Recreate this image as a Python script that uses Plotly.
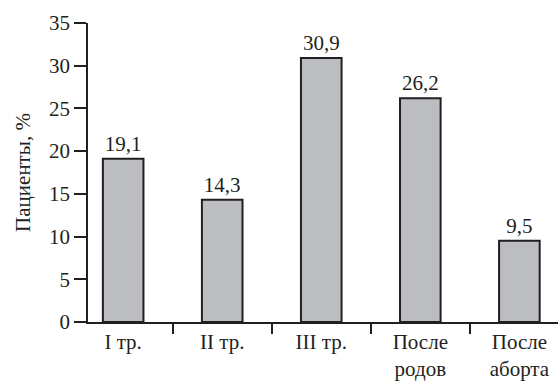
import plotly.graph_objects as go

categories = ["I тр.", "II тр.", "III тр.", "После<br>родов", "После<br>аборта"]
values = [19.1, 14.3, 30.9, 26.2, 9.5]
labels = ["19,1", "14,3", "30,9", "26,2", "9,5"]
y_title = "Пациенты, %"

FONT = "Liberation Serif"
INK = "#231f20"

fig = go.Figure(go.Bar(
    x=categories,
    y=values,
    text=labels,
    textposition="outside",
    textfont=dict(family=FONT, size=21, color=INK),
    cliponaxis=False,
    width=0.41,
    marker=dict(color="#bcbdc0", line=dict(color=INK, width=2)),
))

fig.update_layout(
    width=560, height=383,
    margin=dict(l=88, r=2, t=23, b=59),
    paper_bgcolor="white", plot_bgcolor="white",
    font=dict(family=FONT, size=21, color=INK),
    showlegend=False,
)
fig.update_xaxes(
    type="category",
    range=[-0.355, 4.39],
    showline=True, linecolor=INK, linewidth=1.5,
    ticks="outside", tickson="boundaries", ticklen=10, tickwidth=1.5, tickcolor=INK,
    showgrid=False, zeroline=False,
    tickfont=dict(family=FONT, size=21, color=INK),
)
fig.update_yaxes(
    range=[0, 35], dtick=5,
    showline=True, linecolor=INK, linewidth=1.5,
    ticks="outside", ticklen=12, tickwidth=1.5, tickcolor=INK,
    showgrid=False, zeroline=False,
    tickfont=dict(family=FONT, size=21, color=INK),
    title=dict(text=y_title, font=dict(family=FONT, size=21, color=INK), standoff=13),
)

fig.write_html("out.html")
